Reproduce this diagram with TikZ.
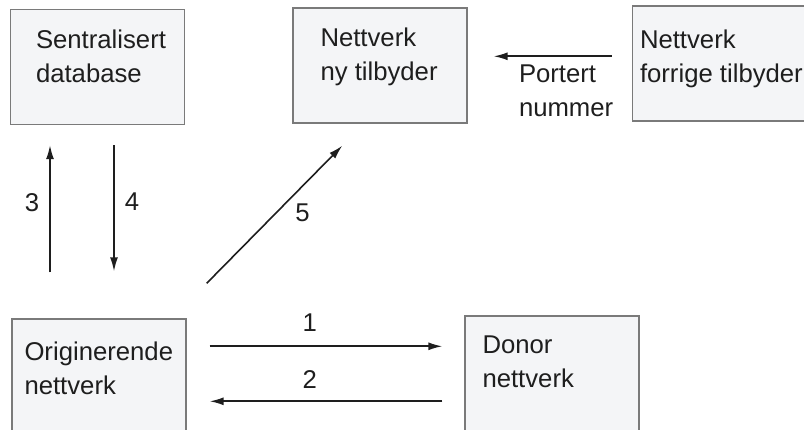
\documentclass[tikz,border=0pt]{standalone}
\usepackage{fontspec}
\setmainfont{Liberation Sans}
\usetikzlibrary{positioning, calc, arrows.meta}
\definecolor{boxfill}{HTML}{F4F5F7}
\definecolor{boxline}{HTML}{7A7A7A}
\definecolor{ink}{HTML}{1E1E1E}

\begin{document}
\begin{tikzpicture}[x=1pt,y=-1pt,
  boks/.style={draw=boxline,fill=boxfill,line width=1.4pt,minimum width=174pt,minimum height=115pt,inner sep=0pt},
  tekst/.style={anchor=north west,inner sep=0pt,align=left,text=ink,font=\fontsize{25.7}{34}\selectfont},
  tall/.style={inner sep=0pt,text=ink,font=\fontsize{25.7}{34}\selectfont},
  pil/.style={-{Latex[length=14pt,width=8pt]},line width=1.6pt,draw=ink}]
\useasboundingbox (0,0) rectangle (804,430);
\color{ink}

% boksene
\node[boks] (sd) at (97.5,67) {};
\node[boks] (nt) at (380,65.5) {};
\node[boks] (ft) at (719.5,63.5) {};
\node[boks] (on) at (99,376.5) {};
\node[boks] (dn) at (552,373.5) {};

% tekst i boksene
\node[tekst] (sdt) at ($(sd.north west)+(26,21)$) {Sentralisert\\database};
\node[tekst] (ntt) at ($(nt.north west)+(28,20)$) {Nettverk\\ny tilbyder};
\node[tekst] (ftt) at ($(ft.north west)+(8,24)$) {Nettverk\\forrige tilbyder};
\node[tekst] (ont) at ($(on.north west)+(13,23)$) {Originerende\\nettverk};
\node[tekst] (dnt) at ($(dn.north west)+(18,20)$) {Donor\\nettverk};

% piler
\draw[pil] ($(ft.north west)+(-20,51)$) -- ($(nt.north east)+(26,49)$);
\node[tekst] (port) at ($(ft.north west)+(-113,59)$) {Portert\\nummer};

\draw[pil] ($(on.north)+(-49,-46)$) -- node[tall,pos=0.55,left=10pt] (n3) {3} ($(sd.south)+(-47.5,20)$);
\draw[pil] ($(sd.south)+(16.5,20)$) -- node[tall,pos=0.45,right=10pt] (n4) {4} ($(on.north)+(15,-47)$);
\draw[pil] ($(on.north east)+(20,-35)$) -- node[tall,pos=0.61,xshift=13pt,yshift=-13pt] (n5) {5} ($(nt.south west)+(50,22)$);

\draw[pil] ($(on.north east)+(23,28)$) -- node[tall,pos=0.43,above=14pt] (n1) {1} ($(dn.north west)+(-22,31)$);
\draw[pil] ($(dn.north west)+(-22,86)$) -- node[tall,pos=0.57,above=12pt] (n2) {2} ($(on.north east)+(23,83)$);

\end{tikzpicture}
\end{document}
